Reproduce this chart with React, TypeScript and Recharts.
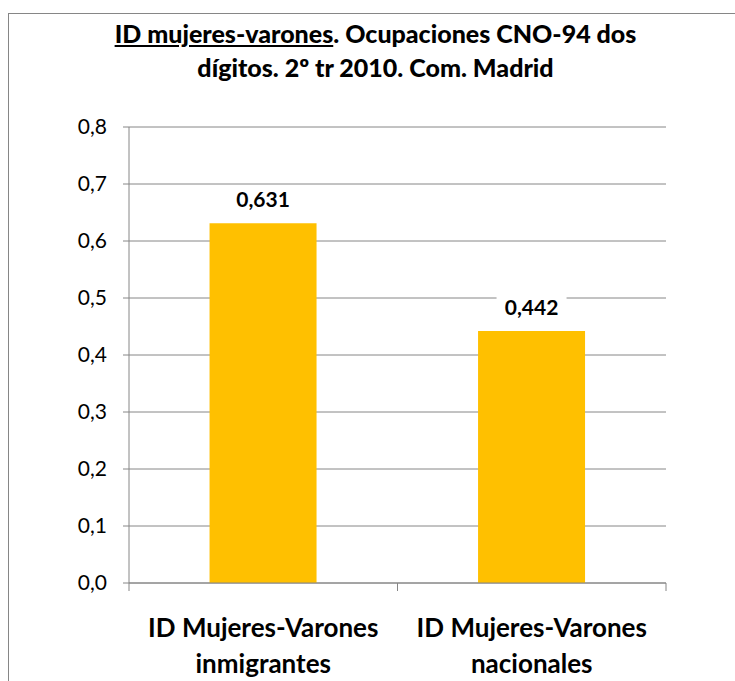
import { BarChart, Bar, XAxis, YAxis, CartesianGrid, LabelList } from "recharts";

const categoryLines = [
  ["ID Mujeres-Varones", "inmigrantes"],
  ["ID Mujeres-Varones", "nacionales"],
];
const values = [0.631, 0.442];
const yTicks = [0, 0.1, 0.2, 0.3, 0.4, 0.5, 0.6, 0.7, 0.8];

const data = categoryLines.map((lines, i) => ({
  name: lines.join(" "),
  value: values[i],
}));

const FONT = "Lato, 'Open Sans', sans-serif";
const GRID = "#868686";

const fmt = (v: number, digits: number) => v.toFixed(digits).replace(".", ",");

// category label in two lines + tick marks on the category edges
const CategoryTick = ({ x, y, index, payload }: any) => {
  const lines = categoryLines[index] || [];
  const half = payload && payload.offset ? payload.offset : 0;
  return (
    <g>
      {half > 0 && (
        <>
          <line x1={x - half} x2={x - half} y1={y} y2={y + 8} stroke={GRID} />
          <line x1={x + half} x2={x + half} y1={y} y2={y + 8} stroke={GRID} />
        </>
      )}
      <text x={x} y={y} textAnchor="middle" fontFamily={FONT} fontWeight="bold" fontSize={26} fill="#000">
        {lines.map((l, i) => (
          <tspan key={i} x={x} dy={i === 0 ? 54 : 36}>
            {l}
          </tspan>
        ))}
      </text>
    </g>
  );
};

const ValueLabel = ({ x, y, width, value }: any) => {
  const cx = x + width / 2;
  return (
    <g>
      <rect x={cx - 35} y={y - 38} width={70} height={34} fill="#fff" />
      <text x={cx} y={y - 16} textAnchor="middle" fontFamily={FONT} fontWeight="bold" fontSize={21} fill="#000">
        {fmt(value, 3)}
      </text>
    </g>
  );
};

export default function App() {
  // fixed page-sized box so nothing overflows the window
  return (
    <div
      style={{
        position: "fixed",
        left: 0,
        top: 0,
        width: 735,
        height: 681,
        overflow: "hidden",
        background: "#fff",
      }}
    >
      {/* chart frame: only its top and left edges fall inside the picture */}
      <div style={{ position: "absolute", left: 8, top: 13, width: 727, height: 1, background: GRID }} />
      <div style={{ position: "absolute", left: 8, top: 13, width: 1, height: 668, background: GRID }} />
      <div
        style={{
          position: "absolute",
          left: 0,
          top: 16,
          width: 751,
          textAlign: "center",
          fontFamily: FONT,
          fontWeight: 900,
          fontSize: 25,
          lineHeight: "34px",
          color: "#000",
        }}
      >
        <u>ID mujeres-varones</u>. Ocupaciones CNO-94 dos
        <br />
        dígitos. 2º tr 2010. Com. Madrid
      </div>
      <div style={{ position: "absolute", left: 8, top: 8 }}>
        <BarChart
          width={727}
          height={673}
          data={data}
          margin={{ top: 119, right: 69, left: 0, bottom: 0 }}
          barCategoryGap="30%"
        >
          <CartesianGrid vertical={false} stroke={GRID} strokeWidth={1} />
          <XAxis
            dataKey="name"
            height={98}
            axisLine={{ stroke: GRID }}
            tickLine={false}
            tickSize={0}
            tickMargin={0}
            interval={0}
            tick={<CategoryTick />}
          />
          <YAxis
            width={121}
            domain={[0, 0.8]}
            ticks={yTicks}
            interval={0}
            tickFormatter={(v: number) => fmt(v, 1)}
            axisLine={{ stroke: GRID }}
            tickLine={{ stroke: GRID }}
            tickSize={6}
            tickMargin={16}
            tick={{ fontFamily: FONT, fontSize: 21, fill: "#000" }}
          />
          <Bar dataKey="value" fill="#FFC000" isAnimationActive={false}>
            <LabelList dataKey="value" content={<ValueLabel />} />
          </Bar>
        </BarChart>
      </div>
    </div>
  );
}
